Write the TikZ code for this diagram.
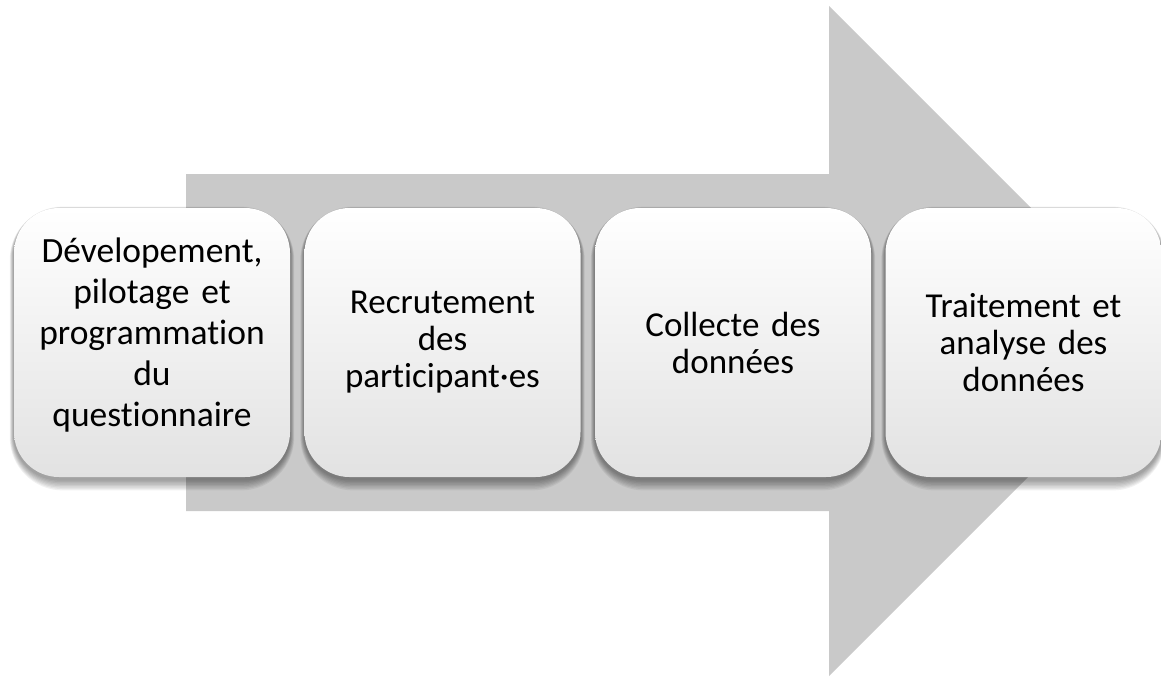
\documentclass[tikz,border=0pt]{standalone}
\usepackage{fontspec}
\setmainfont{Carlito}[Ligatures=NoCommon]
\usetikzlibrary{calc,backgrounds}
\definecolor{arrowgray}{RGB}{201,201,201}
\definecolor{boxbottom}{RGB}{226,226,226}
\tikzset{
  stepbox/.style={
    rounded corners=45pt,
    minimum width=276pt, minimum height=269pt,
    text width=266pt, align=center, inner sep=0pt,
    top color=white, middle color=white, bottom color=boxbottom,
    font=\fontsize{35}{37}\selectfont, text=black
  },
  bigtext/.style={font=\fontsize{35.5}{41}\selectfont, text=black},
  shadowlayer/.style={fill=black, opacity=0.055}
}
\begin{document}
\begin{tikzpicture}[x=1pt,y=-1pt]
\useasboundingbox (0,0) rectangle (1161,677);

% process steps
\node[stepbox] (b1) at (152,342.5) {};
\node[bigtext, align=center, text width=266pt] (t1) at (152,335)
  {Dévelopement,\\pilotage et\\programmation\\du\\questionnaire};
\node[stepbox] (b2) at (442.5,342.5) {Recrutement\\des\\participant·es};
\node[stepbox] (b3) at (733,342.5) {Collecte des\\données};
\node[stepbox] (b4) at (1023.5,342.5) {Traitement et\\analyse des\\données};

\begin{scope}[on background layer]
  % large block arrow behind the steps
  \fill[arrowgray] (186,174) -- (829,174) -- (829,6) -- (1164,341)
    -- (829,676) -- (829,511) -- (186,511) -- cycle;
  % soft drop shadows of the steps
  \foreach \n in {b1,b2,b3,b4}{
    \foreach \k in {1,...,8}{
      \fill[shadowlayer, rounded corners={45pt+\k pt}]
        ($(\n.north west)+(-0.5*\k,2-0.4*\k)$) rectangle
        ($(\n.south east)+(0.5*\k,2+1.4*\k)$);
    }
  }
\end{scope}
\end{tikzpicture}
\end{document}
